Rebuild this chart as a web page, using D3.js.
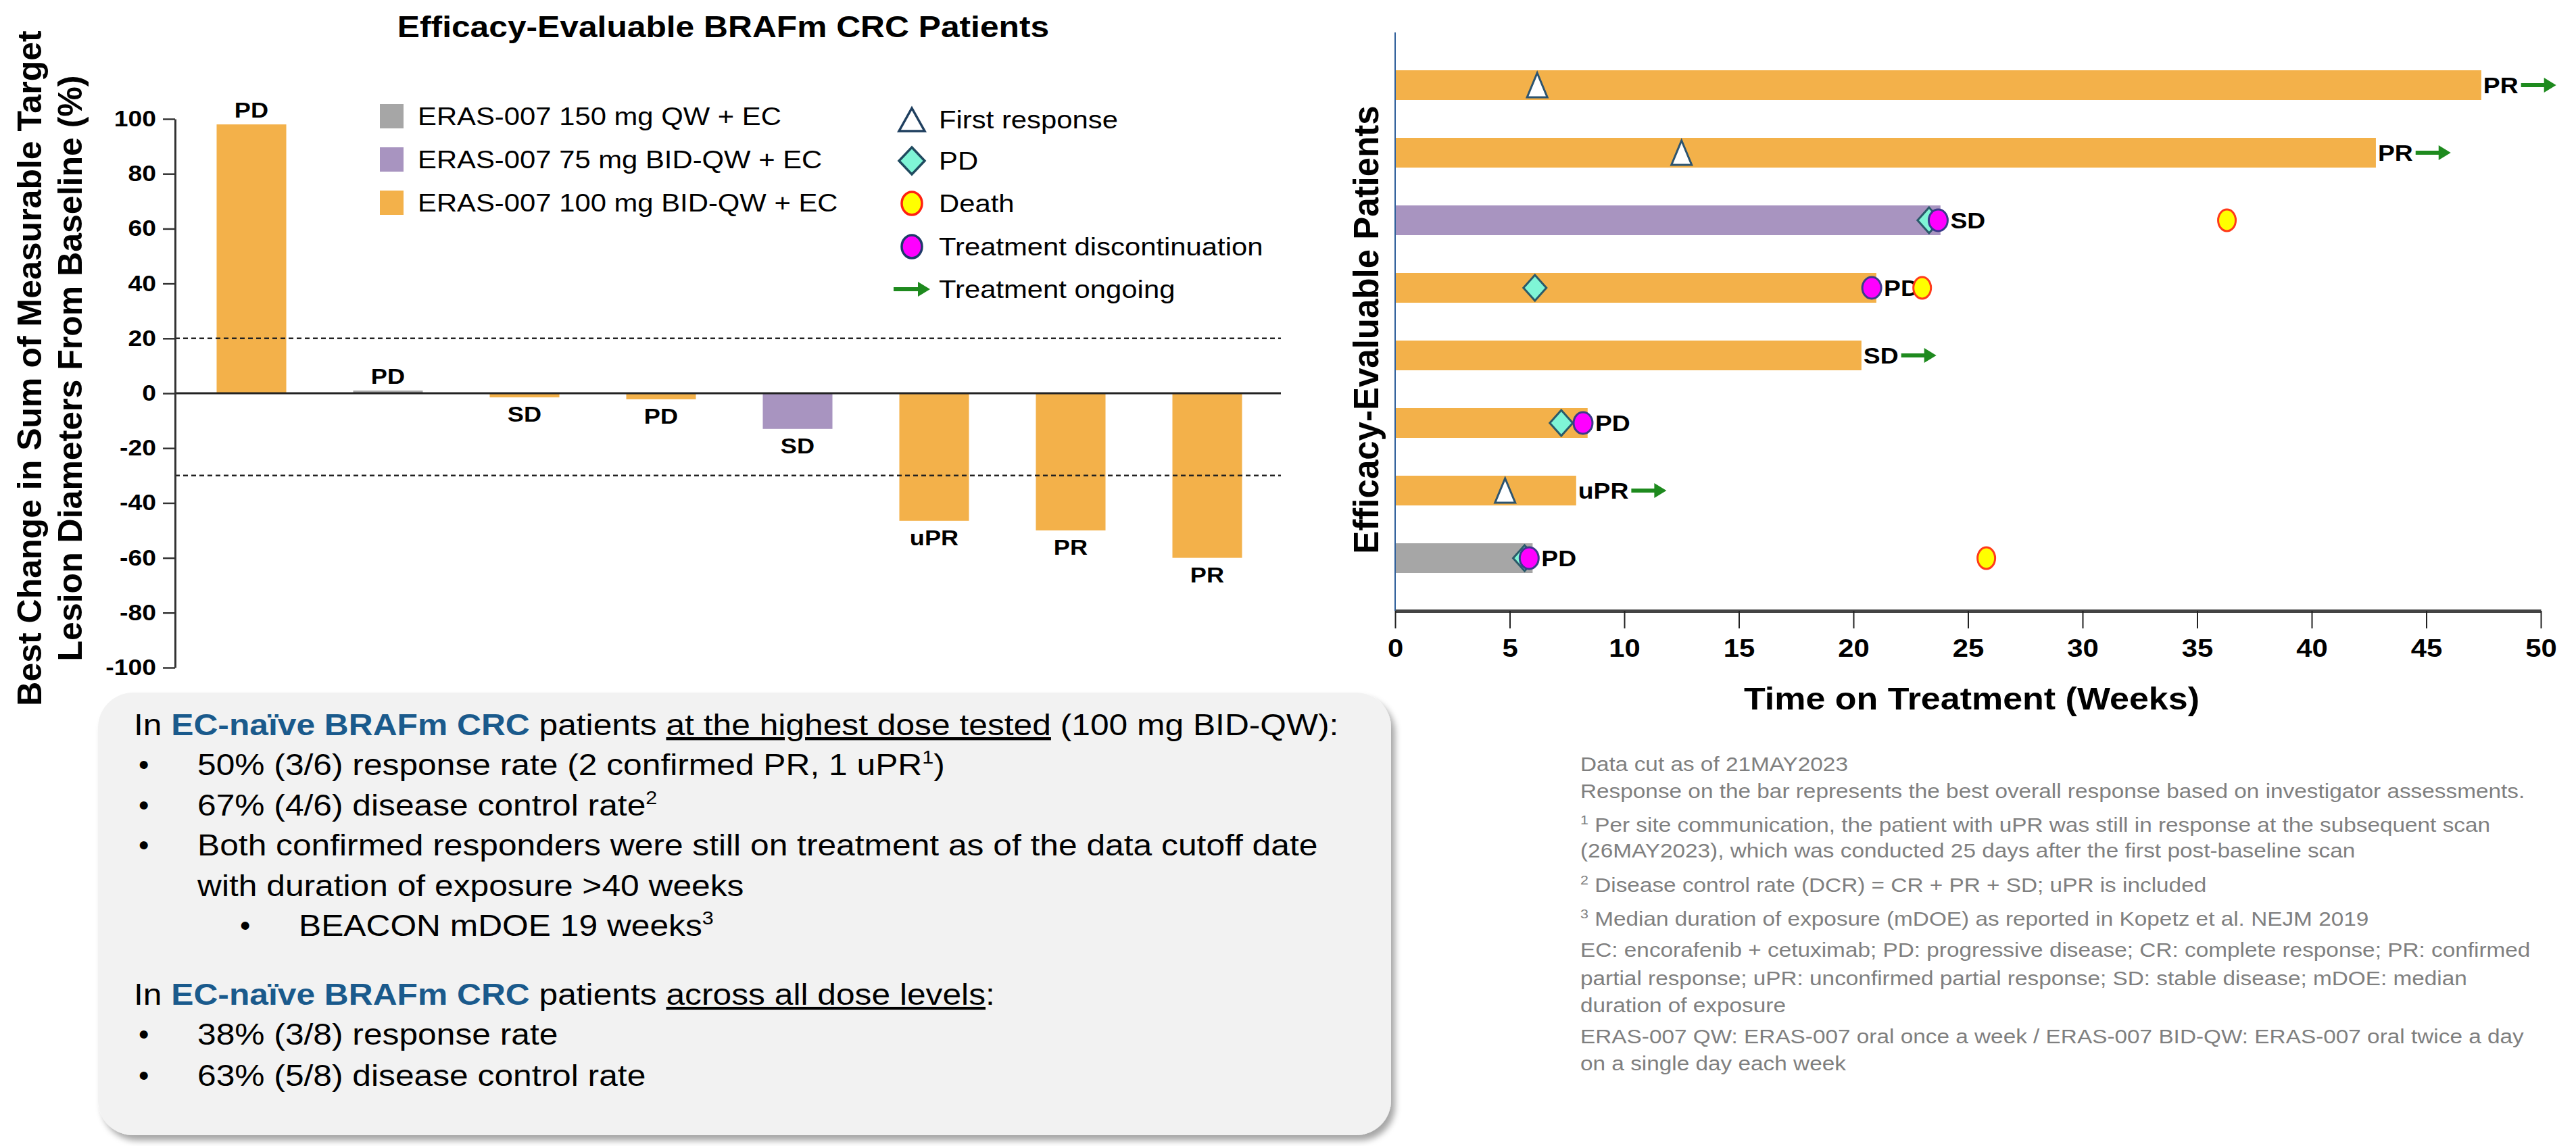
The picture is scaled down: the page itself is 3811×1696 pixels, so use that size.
<!DOCTYPE html>
<html>
<head>
<meta charset="utf-8">
<script src="https://cdn.jsdelivr.net/npm/d3@7"></script>
<style>
  body { margin: 0; background: #fff; }
  svg { display: block; font-family: "Liberation Sans", Arial, sans-serif; }
</style>
</head>
<body>
<svg id="chart"></svg>
<script>
// ---- waterfall data (best change from baseline, %) ----
const patients = ['p1', 'p2', 'p3', 'p4', 'p5', 'p6', 'p7', 'p8'];
const bestChange = [98, 1, -1.5, -2.2, -13, -46.5, -50, -60];
const waterfallDose = ['100', '150', '100', '100', '75', '100', '100', '100'];
const waterfallResponse = ['PD', 'PD', 'SD', 'PD', 'SD', 'uPR', 'PR', 'PR'];
const yTicks = [100, 80, 60, 40, 20, 0, -20, -40, -60, -80, -100];
const thresholds = [20, -30];

// dose groups
const doseKeys = ['150', '75', '100'];
const doseLabels = ['ERAS-007 150 mg QW + EC', 'ERAS-007 75 mg BID-QW + EC', 'ERAS-007 100 mg BID-QW + EC'];
const doseColors = ['#a6a6a6', '#a894c0', '#f3b14a'];

// ---- swimmer data (weeks) ----
const swimRows = ['r1', 'r2', 'r3', 'r4', 'r5', 'r6', 'r7', 'r8'];
const swimDuration = [47.4, 42.8, 23.8, 21.0, 20.35, 8.4, 7.9, 6.0];
const swimDose = ['100', '100', '75', '100', '100', '100', '100', '150'];
const swimResponse = ['PR', 'PR', 'SD', 'PD', 'SD', 'PD', 'uPR', 'PD'];
const firstResponse = [6.2, 12.5, null, null, null, null, 4.8, null];
const pdWeek = [null, null, 23.3, 6.1, null, 7.25, null, 5.65];
const discWeek = [null, null, 23.7, 20.8, null, 8.2, null, 5.85];
const deathWeek = [null, null, 36.3, 23.0, null, null, null, 25.8];
const ongoing = [true, true, false, false, true, false, true, false];
const xTicks = [0, 5, 10, 15, 20, 25, 30, 35, 40, 45, 50];
const markerLabels = ['First response', 'PD', 'Death', 'Treatment discontinuation', 'Treatment ongoing'];

// ---- footnotes ----
const footnotes = [
  ['', 'Data cut as of 21MAY2023'],
  ['', 'Response on the bar represents the best overall response based on investigator assessments.'],
  ['1', ' Per site communication, the patient with uPR was still in response at the subsequent scan'],
  ['', '(26MAY2023), which was conducted 25 days after the first post-baseline scan'],
  ['2', ' Disease control rate (DCR) = CR + PR + SD; uPR is included'],
  ['3', ' Median duration of exposure (mDOE) as reported in Kopetz et al. NEJM 2019'],
  ['', 'EC: encorafenib + cetuximab; PD: progressive disease; CR: complete response; PR: confirmed'],
  ['', 'partial response; uPR: unconfirmed partial response; SD: stable disease; mDOE: median'],
  ['', 'duration of exposure'],
  ['', 'ERAS-007 QW: ERAS-007 oral once a week / ERAS-007 BID-QW: ERAS-007 oral twice a day'],
  ['', 'on a single day each week'],
];

const width = 3811;
const height = 1696;
// the source slide is a bit wider than tall, so text glyphs get widened
const stretch = 1.13;

const colorOf = d3.scaleOrdinal().domain(doseKeys).range(doseColors);

function widen(sel) {
  sel.each(function () {
    const len = this.getComputedTextLength();
    d3.select(this)
      .attr('textLength', len * stretch)
      .attr('lengthAdjust', 'spacingAndGlyphs');
  });
  return sel;
}

const svg = d3.select('#chart')
  .attr('width', width)
  .attr('height', height);

// drop shadow for the summary box
const defs = svg.append('defs');
defs.append('filter')
  .attr('id', 'shadow')
  .attr('x', '-5%').attr('y', '-5%')
  .attr('width', '110%').attr('height', '115%')
  .append('feDropShadow')
  .attr('dx', 6).attr('dy', 8)
  .attr('stdDeviation', 5)
  .attr('flood-color', '#000')
  .attr('flood-opacity', 0.35);

// =================== waterfall (left) ===================
const wx = d3.scaleBand()
  .domain(patients)
  .range([271, 1887])
  .paddingInner(0.49)
  .paddingOuter(0.245);

const wy = d3.scaleLinear()
  .domain([-100, 100])
  .range([988, 176]);

const wf = svg.append('g');

wf.append('text')
  .attr('x', 1070)
  .attr('y', 55)
  .attr('text-anchor', 'middle')
  .style('font-size', '44px')
  .style('font-weight', 'bold')
  .text('Efficacy-Evaluable BRAFm CRC Patients')
  .call(widen);

// bars
wf.selectAll('rect.wbar')
  .data(patients)
  .join('rect')
  .attr('class', 'wbar')
  .attr('x', d => wx(d))
  .attr('width', wx.bandwidth())
  .attr('y', (d, i) => wy(Math.max(0, bestChange[i])))
  .attr('height', (d, i) => Math.abs(wy(bestChange[i]) - wy(0)))
  .attr('fill', (d, i) => colorOf(waterfallDose[i]));

// threshold lines
wf.selectAll('line.thr')
  .data(thresholds)
  .join('line')
  .attr('class', 'thr')
  .attr('x1', 259)
  .attr('x2', 1895)
  .attr('y1', d => wy(d))
  .attr('y2', d => wy(d))
  .attr('stroke', '#222')
  .attr('stroke-width', 2.5)
  .attr('stroke-dasharray', '7,5');

// zero line
wf.append('line')
  .attr('x1', 259)
  .attr('x2', 1895)
  .attr('y1', wy(0))
  .attr('y2', wy(0))
  .attr('stroke', '#222')
  .attr('stroke-width', 3);

// response labels on bars
wf.selectAll('text.wlab')
  .data(patients)
  .join('text')
  .attr('class', 'wlab')
  .attr('x', d => wx(d) + wx.bandwidth() / 2)
  .attr('y', (d, i) => bestChange[i] > 0 ? wy(bestChange[i]) - 10 : wy(bestChange[i]) + 36)
  .attr('text-anchor', 'middle')
  .style('font-size', '32px')
  .style('font-weight', 'bold')
  .text((d, i) => waterfallResponse[i])
  .call(widen);

// y axis
const wAxis = wf.append('g')
  .attr('transform', 'translate(259,0)')
  .call(d3.axisLeft(wy).tickValues(yTicks).tickFormat(d => String(d))
    .tickSize(18).tickSizeOuter(0).tickPadding(10));
wAxis.select('.domain').attr('stroke', '#333').attr('stroke-width', 3);
wAxis.selectAll('.tick line').attr('stroke', '#333').attr('stroke-width', 2.5);
wAxis.selectAll('.tick text')
  .style('font-size', '33px')
  .style('font-weight', 'bold')
  .style('font-family', '"Liberation Sans", Arial, sans-serif')
  .attr('fill', '#000')
  .call(widen);

// y axis title (two lines)
const wTitle = wf.append('text')
  .attr('transform', 'translate(0,545) rotate(-90)')
  .attr('text-anchor', 'middle')
  .style('font-size', '50px')
  .style('font-weight', 'bold');
wTitle.append('tspan').attr('x', 0).attr('y', 61).text('Best Change in Sum of Measurable Target');
wTitle.append('tspan').attr('x', 0).attr('y', 121).text('Lesion Diameters From Baseline (%)');

// dose legend
const wLeg = wf.selectAll('g.wleg')
  .data(doseKeys)
  .join('g')
  .attr('class', 'wleg')
  .attr('transform', (d, i) => `translate(562,${172 + i * 64})`);
wLeg.append('rect')
  .attr('x', 0).attr('y', -18)
  .attr('width', 35).attr('height', 36)
  .attr('fill', d => colorOf(d));
wLeg.append('text')
  .attr('x', 56).attr('y', 13)
  .style('font-size', '37px')
  .text((d, i) => doseLabels[i])
  .call(widen);

// =================== swimmer (right) ===================
const sx = d3.scaleLinear()
  .domain([0, 50])
  .range([2064, 3759]);

const sy = d3.scaleBand()
  .domain(swimRows)
  .range([76, 876])
  .paddingInner(0.56)
  .paddingOuter(0.28);

const sw = svg.append('g');
const rowMid = r => sy(r) + sy.bandwidth() / 2;

sw.selectAll('rect.sbar')
  .data(swimRows)
  .join('rect')
  .attr('class', 'sbar')
  .attr('x', sx(0))
  .attr('y', d => sy(d))
  .attr('width', (d, i) => sx(swimDuration[i]) - sx(0))
  .attr('height', sy.bandwidth())
  .attr('fill', (d, i) => colorOf(swimDose[i]));

// axes
sw.append('line')
  .attr('x1', sx(0)).attr('x2', sx(0))
  .attr('y1', 48).attr('y2', 904)
  .attr('stroke', '#2f5f9a')
  .attr('stroke-width', 2);

const sAxis = sw.append('g')
  .attr('transform', 'translate(0,904)')
  .call(d3.axisBottom(sx).tickValues(xTicks).tickSize(26).tickSizeOuter(0).tickPadding(16));
sAxis.select('.domain').attr('stroke', '#444').attr('stroke-width', 5);
sAxis.selectAll('.tick line').attr('stroke', '#222').attr('stroke-width', 2);
sAxis.selectAll('.tick text')
  .style('font-size', '37px')
  .style('font-weight', 'bold')
  .style('font-family', '"Liberation Sans", Arial, sans-serif')
  .attr('fill', '#000')
  .call(widen);

sw.append('text')
  .attr('x', 2917)
  .attr('y', 1050)
  .attr('text-anchor', 'middle')
  .style('font-size', '46px')
  .style('font-weight', 'bold')
  .text('Time on Treatment (Weeks)')
  .call(widen);

sw.append('text')
  .attr('transform', 'translate(2039,488) rotate(-90)')
  .attr('text-anchor', 'middle')
  .style('font-size', '51px')
  .style('font-weight', 'bold')
  .text('Efficacy-Evaluable Patients');

// marker drawing helpers
const triPath = (w, h) => `M0,${-h / 2}L${w / 2},${h / 2}L${-w / 2},${h / 2}Z`;
const diaPath = (w, h) => `M0,${-h / 2}L${w / 2},0L0,${h / 2}L${-w / 2},0Z`;

function drawArrow(g, x0, y0, len) {
  g.append('line')
    .attr('x1', x0).attr('x2', x0 + len - 14)
    .attr('y1', y0).attr('y2', y0)
    .attr('stroke', '#1e8a1e')
    .attr('stroke-width', 6);
  g.append('path')
    .attr('d', `M${x0 + len},${y0}L${x0 + len - 18},${y0 - 11}L${x0 + len - 18},${y0 + 11}Z`)
    .attr('fill', '#1e8a1e');
}

// response labels + ongoing arrows
swimRows.forEach((r, i) => {
  const ym = rowMid(r);
  let lx = sx(swimDuration[i]) + 3;
  if (discWeek[i] !== null) lx = Math.max(lx, sx(discWeek[i]) + 18);
  const t = sw.append('text')
    .attr('x', lx)
    .attr('y', ym + 12)
    .style('font-size', '33px')
    .style('font-weight', 'bold')
    .text(swimResponse[i])
    .call(widen);
  if (ongoing[i]) {
    const tw = +t.attr('textLength');
    drawArrow(sw, lx + tw + 4, ym, 52);
  }
});

// first response triangles
sw.selectAll('path.first')
  .data(swimRows.filter((r, i) => firstResponse[i] !== null))
  .join('path')
  .attr('class', 'first')
  .attr('transform', d => `translate(${sx(firstResponse[swimRows.indexOf(d)])},${rowMid(d)})`)
  .attr('d', triPath(30, 36))
  .attr('fill', '#fff')
  .attr('stroke', '#2c5470')
  .attr('stroke-width', 3);

// PD diamonds
sw.selectAll('path.pd')
  .data(swimRows.filter((r, i) => pdWeek[i] !== null))
  .join('path')
  .attr('class', 'pd')
  .attr('transform', d => `translate(${sx(pdWeek[swimRows.indexOf(d)])},${rowMid(d)})`)
  .attr('d', diaPath(34, 38))
  .attr('fill', '#7ff5d6')
  .attr('stroke', '#2a5a6a')
  .attr('stroke-width', 3);

// discontinuation circles
sw.selectAll('ellipse.disc')
  .data(swimRows.filter((r, i) => discWeek[i] !== null))
  .join('ellipse')
  .attr('class', 'disc')
  .attr('cx', d => sx(discWeek[swimRows.indexOf(d)]))
  .attr('cy', d => rowMid(d))
  .attr('rx', 14).attr('ry', 16)
  .attr('fill', '#ff00ff')
  .attr('stroke', '#3b3a8a')
  .attr('stroke-width', 3);

// death circles
sw.selectAll('ellipse.death')
  .data(swimRows.filter((r, i) => deathWeek[i] !== null))
  .join('ellipse')
  .attr('class', 'death')
  .attr('cx', d => sx(deathWeek[swimRows.indexOf(d)]))
  .attr('cy', d => rowMid(d))
  .attr('rx', 13).attr('ry', 16)
  .attr('fill', '#ffff00')
  .attr('stroke', '#ff3a1a')
  .attr('stroke-width', 3);

// marker legend
const legG = svg.append('g').attr('transform', 'translate(1349,0)');
const legY = [177, 238, 301, 365, 428];
legG.append('path')
  .attr('transform', `translate(0,${legY[0]})`)
  .attr('d', triPath(38, 34))
  .attr('fill', '#fff').attr('stroke', '#1f3f5f').attr('stroke-width', 3.5);
legG.append('path')
  .attr('transform', `translate(0,${legY[1]})`)
  .attr('d', diaPath(38, 40))
  .attr('fill', '#7ff5d6').attr('stroke', '#1f4a5f').attr('stroke-width', 3.5);
legG.append('ellipse')
  .attr('cy', legY[2]).attr('rx', 15).attr('ry', 17)
  .attr('fill', '#ffff00').attr('stroke', '#ff2010').attr('stroke-width', 3.5);
legG.append('ellipse')
  .attr('cy', legY[3]).attr('rx', 15).attr('ry', 17)
  .attr('fill', '#ff00ff').attr('stroke', '#1f3a6a').attr('stroke-width', 3.5);
drawArrow(legG, -27, legY[4], 54);
legG.selectAll('text')
  .data(markerLabels)
  .join('text')
  .attr('x', 40)
  .attr('y', (d, i) => legY[i] + 13)
  .style('font-size', '37px')
  .text(d => d)
  .call(widen);

// =================== summary box ===================
svg.append('rect')
  .attr('x', 145).attr('y', 1025)
  .attr('width', 1913).attr('height', 655)
  .attr('rx', 52)
  .attr('fill', '#f2f2f2')
  .attr('filter', 'url(#shadow)');

const boxLines = [
  { x: 198, y: 1088, parts: [['In '], ['EC-naïve BRAFm CRC', 'hl'], [' patients '], ['at the highest dose tested', 'ul'], [' (100 mg BID-QW):']] },
  { x: 292, y: 1147, bullet: 205, parts: [['50% (3/6) response rate (2 confirmed PR, 1 uPR'], ['1', 'sup'], [')']] },
  { x: 292, y: 1207, bullet: 205, parts: [['67% (4/6) disease control rate'], ['2', 'sup']] },
  { x: 292, y: 1266, bullet: 205, parts: [['Both confirmed responders were still on treatment as of the data cutoff date']] },
  { x: 292, y: 1326, parts: [['with duration of exposure >40 weeks']] },
  { x: 442, y: 1385, bullet: 355, parts: [['BEACON mDOE 19 weeks'], ['3', 'sup']] },
  { x: 198, y: 1487, parts: [['In '], ['EC-naïve BRAFm CRC', 'hl'], [' patients '], ['across all dose levels', 'ul'], [':']] },
  { x: 292, y: 1546, bullet: 205, parts: [['38% (3/8) response rate']] },
  { x: 292, y: 1607, bullet: 205, parts: [['63% (5/8) disease control rate']] },
];

function addParts(textSel, parts, supSize, supShift) {
  let shifted = false;
  parts.forEach(([t, cls]) => {
    const ts = textSel.append('tspan').text(t);
    if (cls === 'hl') ts.style('font-weight', 'bold').attr('fill', '#1a5a8c');
    if (cls === 'ul') ts.style('text-decoration', 'underline');
    if (cls === 'sup') {
      ts.style('font-size', supSize).attr('dy', -supShift);
      shifted = true;
    } else if (shifted) {
      ts.attr('dy', supShift);
      shifted = false;
    }
  });
}

boxLines.forEach(l => {
  if (l.bullet) {
    svg.append('text')
      .attr('x', l.bullet).attr('y', l.y)
      .style('font-size', '44px')
      .text('•');
  }
  const t = svg.append('text')
    .attr('x', l.x).attr('y', l.y)
    .style('font-size', '44px')
    .attr('fill', '#000');
  addParts(t, l.parts, '27px', 17);
  widen(t);
});

// =================== footnotes ===================
const footY = [1141, 1181, 1231, 1269, 1320, 1370, 1416, 1458, 1498, 1544, 1584];
footnotes.forEach(([sup, txt], i) => {
  const t = svg.append('text')
    .attr('x', 2338).attr('y', footY[i])
    .style('font-size', '29.5px')
    .attr('fill', '#7f7f7f');
  if (sup) {
    t.append('tspan').text(sup).style('font-size', '19px').attr('dy', -11);
    t.append('tspan').text(txt).attr('dy', 11);
  } else {
    t.text(txt);
  }
  widen(t);
});
</script>
</body>
</html>
